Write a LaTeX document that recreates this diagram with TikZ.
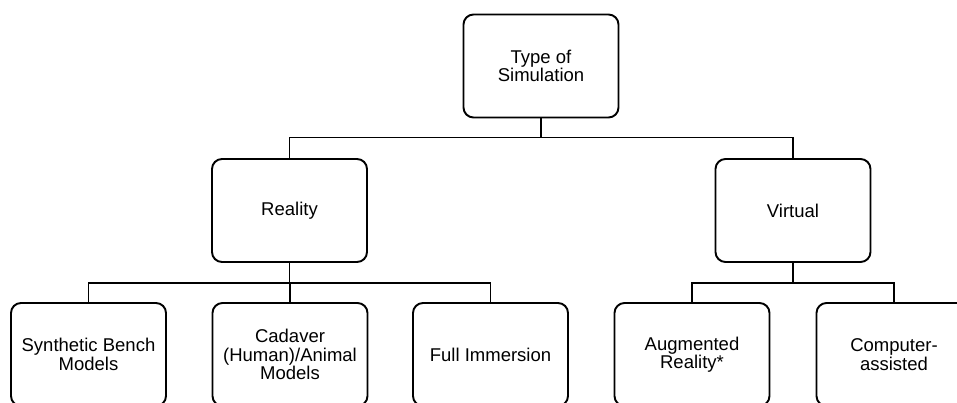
\documentclass[tikz,border=0pt]{standalone}
\usepackage{fontspec}
\setmainfont{Liberation Sans}
\begin{document}
\begin{tikzpicture}[x=1pt,y=-1pt,
  box/.style={draw=black, line width=1.9pt, rounded corners=10pt, fill=white,
    minimum width=155pt, minimum height=103pt, inner sep=0pt, align=center,
    font=\fontsize{18.5}{18.4}\selectfont},
  conn/.style={draw=black, line width=1.9pt}]
\useasboundingbox (0,0) rectangle (957,402);
\clip (0,0) rectangle (957,402);
\fill[white] (0,0) rectangle (957,402);
\node[box] (top) at (541,66) {Type of\\Simulation};
\node[box] (reality) at (289.5,210.5) {Reality};
\node[box] (virtual) at (793,210.5) {Virtual};
\node[box] (synth) at (88.5,354.5) {Synthetic Bench\\Models};
\node[box] (cad) at (290,354.5) {Cadaver\\(Human)/Animal\\Models};
\node[box] (full) at (490.5,354.5) {Full Immersion};
\node[box] (aug) at (692,354.5) {Augmented\\Reality*};
\node[box] (comp) at (894,354.5) {Computer-\\assisted};
\coordinate (j1) at (541,137.5);
\coordinate (j2) at (289.5,283);
\coordinate (j3) at (793,283);
\draw[conn] (top.south) -- (j1);
\draw[conn] (j1) -| (reality.north);
\draw[conn] (j1) -| (virtual.north);
\draw[conn] (reality.south) -- (j2);
\draw[conn] (j2) -| (synth.north);
\draw[conn] (j2) -| (cad.north);
\draw[conn] (j2) -| (full.north);
\draw[conn] (virtual.south) -- (j3);
\draw[conn] (j3) -| (aug.north);
\draw[conn] (j3) -| (comp.north);
\end{tikzpicture}
\end{document}
